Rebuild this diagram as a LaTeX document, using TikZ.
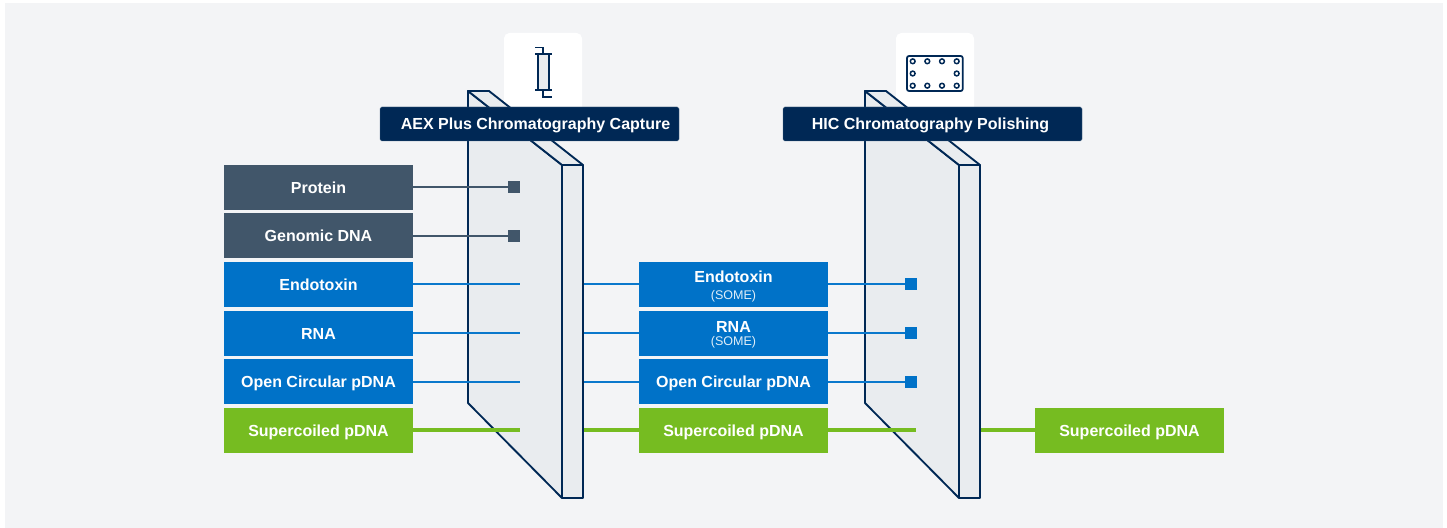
\documentclass[tikz,border=0pt]{standalone}
\usepackage{fontspec}
\setmainfont{Liberation Sans}
\definecolor{pagebg}{HTML}{F3F4F6}
\definecolor{slatebox}{HTML}{41566A}
\definecolor{bluebox}{HTML}{0072C8}
\definecolor{bluewireC}{HTML}{0A78CC}
\definecolor{greenbox}{HTML}{76BC21}
\definecolor{navy}{HTML}{002855}
\definecolor{platefill}{HTML}{E9ECEF}
\tikzset{
  x=0.75pt,y=-0.75pt,
  stagebox/.style={minimum width=141.75pt,minimum height=33.75pt,inner sep=0pt,text=white,font=\fontsize{12}{14}\selectfont\bfseries,anchor=center,text height=8.6pt,text depth=0pt},
  slate/.style={stagebox,fill=slatebox},
  blue/.style={stagebox,fill=bluebox},
  green/.style={stagebox,fill=greenbox},
  wire/.style={line width=1.5pt},
  slatewire/.style={wire,draw=slatebox},
  bluewire/.style={wire,draw=bluewireC},
  greenwire/.style={line width=2.6pt,draw=greenbox},
  stopper/.style={minimum size=9pt,inner sep=0pt},
  plate/.style={draw=navy,line width=1.4pt,fill=platefill,line join=round},
  banner/.style={fill=navy,rounded corners=1.2pt,draw=navy!70,line width=0.3pt,inner sep=0pt,minimum height=25.5pt,minimum width=224.25pt},
  bannertext/.style={text=white,font=\fontsize{12}{14}\selectfont\bfseries,inner sep=0pt,text height=8.6pt,text depth=0pt},
  card/.style={fill=white,rounded corners=4pt},
  icon/.style={draw=navy,line width=1.3pt},
  sometext/.style={text=white!88!bluebox,font=\fontsize{9.4}{11}\selectfont,inner sep=0pt,text height=6.8pt,text depth=0pt},
  headtext/.style={text=white,inner sep=0pt,font=\fontsize{12}{14}\selectfont\bfseries,text height=8.6pt,text depth=0pt},
  hole/.style={draw=navy,line width=1.1pt,fill=white,circle,minimum size=3.6pt,inner sep=0pt},
}
\newcommand{\plateshape}[1]{%
  \begin{scope}[xshift=#1*0.75pt]
    \draw[plate] (468,91) -- (562,165) -- (562,498) -- (468,403) -- cycle;
    \draw[plate] (468,91) -- (489,91) -- (583,165) -- (562,165) -- cycle;
    \draw[plate] (562,165) -- (583,165) -- (583,498) -- (562,498) -- cycle;
  \end{scope}}
\begin{document}
\begin{tikzpicture}
\useasboundingbox (0,0) rectangle (1447,528);
\fill[pagebg] (5,3) rectangle (1443,528);
% icon cards
\fill[card] (504,33) rectangle (582,120);
\fill[card] (896,33) rectangle (974,120);
% column icon
\draw[icon,fill=platefill] (538,54) rectangle (548.8,90);
\draw[icon] (535,54) -- (551.5,54);
\draw[icon] (535,90) -- (551.5,90);
\draw[icon] (535,47.5) -- (543.3,47.5) -- (543.3,54);
\draw[icon] (543.3,90) -- (543.3,97) -- (551.5,97);
% plate icon
\draw[icon,rounded corners=1.5pt] (907,56) rectangle (962.7,91);
\foreach \px in {912.7,927.3,942,956.7}{
  \node[hole] at (\px,61.3) {};
  \node[hole] at (\px,85.7) {};
}
\node[hole] at (912.7,73.5) {};
\node[hole] at (956.7,73.5) {};
% plates
\plateshape{0}
\plateshape{397}
% left column
\node[slate] (protein) at (318.5,187.5) {Protein};
\node[slate] (gdna) at (318.5,235.5) {Genomic DNA};
\node[blue] (endoA) at (318.5,284.5) {Endotoxin};
\node[blue] (rnaA) at (318.5,333.5) {RNA};
\node[blue] (ocA) at (318.5,381.5) {Open Circular pDNA};
\node[green] (scA) at (318.5,430.5) {Supercoiled pDNA};
% middle column
\node[blue] (endoB) at (733.5,284.5) {};
\node[sometext] at (733.5,294.5) {(SOME)};
\node[headtext] at (733.5,276.5) {Endotoxin};
\node[blue] (rnaB) at (733.5,333.5) {};
\node[sometext] at (733.5,341) {(SOME)};
\node[headtext] at (733.5,326.5) {RNA};
\node[blue] (ocB) at (733.5,381.5) {Open Circular pDNA};
\node[green] (scB) at (733.5,430.5) {Supercoiled pDNA};
% right
\node[green] (scC) at (1129.5,430.5) {Supercoiled pDNA};
% stoppers
\node[stopper,fill=slatebox] (sq1) at (514,187) {};
\node[stopper,fill=slatebox] (sq2) at (514,236) {};
\node[stopper,fill=bluebox] (sq3) at (911,284) {};
\node[stopper,fill=bluebox] (sq4) at (911,333) {};
\node[stopper,fill=bluebox] (sq5) at (911,381.5) {};
% free ends
\coordinate (e1) at (520,284); \coordinate (s1) at (584,284);
\coordinate (e2) at (520,333);   \coordinate (s2) at (584,333);
\coordinate (e3) at (520,381.5); \coordinate (s3) at (584,381.5);
\coordinate (e4) at (520,430);   \coordinate (s4) at (584,430);
\coordinate (e5) at (916,430);   \coordinate (s5) at (981,430);
% connectors
\draw[slatewire] (protein.east |- sq1) -- (sq1);
\draw[slatewire] (gdna.east |- sq2) -- (sq2);
\draw[bluewire] (endoA.east |- e1) -- (e1);
\draw[bluewire] (s1) -- (endoB.west |- s1);
\draw[bluewire] (rnaA.east |- e2) -- (e2);
\draw[bluewire] (s2) -- (rnaB.west |- s2);
\draw[bluewire] (ocA.east |- e3) -- (e3);
\draw[bluewire] (s3) -- (ocB.west |- s3);
\draw[greenwire] (scA.east |- e4) -- (e4);
\draw[greenwire] (s4) -- (scB.west |- s4);
\draw[bluewire] (endoB.east |- sq3) -- (sq3);
\draw[bluewire] (rnaB.east |- sq4) -- (sq4);
\draw[bluewire] (ocB.east |- sq5) -- (sq5);
\draw[greenwire] (scB.east |- e5) -- (e5);
\draw[greenwire] (s5) -- (scC.west |- s5);
% banners
\node[banner] (aex) at (529.5,124) {};
\node[bannertext] at (535.5,124) {AEX Plus Chromatography Capture};
\node[banner] (hic) at (932.5,124) {};
\node[bannertext] at (930.5,124) {HIC Chromatography Polishing};
\end{tikzpicture}
\end{document}
